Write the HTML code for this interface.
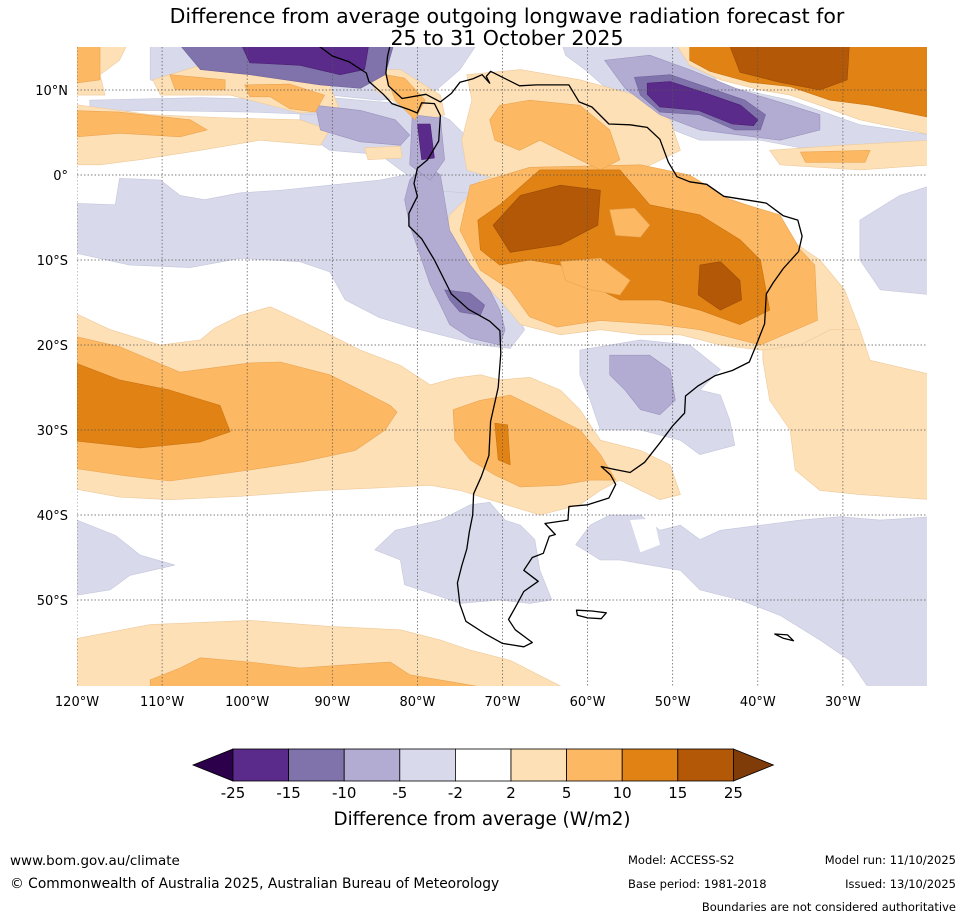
<!DOCTYPE html>
<html><head><meta charset="utf-8"><style>
body{margin:0;background:#fff;}
svg{display:block;font-family:"DejaVu Sans","Liberation Sans",sans-serif;}
</style></head><body>
<svg id="chart" width="965" height="919" viewBox="0 0 965 919" xmlns="http://www.w3.org/2000/svg">
<rect width="965" height="919" fill="#fff"/>
<text x="507" y="23" text-anchor="middle" font-size="20.5" fill="#000">Difference from average outgoing longwave radiation forecast for</text>
<text x="507" y="45" text-anchor="middle" font-size="20.5" fill="#000">25 to 31 October 2025</text>
<defs><clipPath id="mapclip"><rect x="77" y="47" width="850" height="639"/></clipPath></defs>
<g id="map" clip-path="url(#mapclip)"></g>
<g id="axes"></g>
<g id="cbar"></g>
<text x="482" y="825" text-anchor="middle" font-size="18.3">Difference from average (W/m2)</text>
<text x="10" y="865" font-size="13.5">www.bom.gov.au/climate</text>
<text x="10" y="888" font-size="13.8">© Commonwealth of Australia 2025, Australian Bureau of Meteorology</text>
<text x="628" y="864" font-size="11.5">Model: ACCESS-S2</text>
<text x="956" y="864" font-size="11.5" text-anchor="end">Model run: 11/10/2025</text>
<text x="628" y="888" font-size="11.5">Base period: 1981-2018</text>
<text x="956" y="888" font-size="11.5" text-anchor="end">Issued: 13/10/2025</text>
<text x="956" y="911" font-size="11.5" text-anchor="end">Boundaries are not considered authoritative</text>
</svg>
<script>
const lonTicks=[-120,-110,-100,-90,-80,-70,-60,-50,-40,-30];
const lonLabels=["120°W","110°W","100°W","90°W","80°W","70°W","60°W","50°W","40°W","30°W"];
const latTicks=[10,0,-10,-20,-30,-40,-50];
const latLabels=["10°N","0°","10°S","20°S","30°S","40°S","50°S"];
const cbarBounds=[-25,-15,-10,-5,-2,2,5,10,15,25];
const cbarColors=["#5a2b8a","#8073ac","#b2abd2","#d8daeb","#ffffff","#fee0b6","#fdb863","#e08214","#b35806"];
const cbarUnder="#2d004b", cbarOver="#7f3b08";
const levelColors={"-4":"#5a2b8a","-3":"#8073ac","-2":"#b2abd2","-1":"#d8daeb","0":"#ffffff","1":"#fee0b6","2":"#fdb863","3":"#e08214","4":"#b35806"};
// anomaly level index per region (1 = 2..5, -1 = -2..-5, etc.)
const regionLevels=[-1,-1,-1,-1,-1,-1,-1,
  1,1,1,1,1,1,1,1,1,1,1,1,
  -1,
  -2,-2,-2,-3,-2,-2,
  2,2,2,2,2,2,2,2,2,2,2,
  -3,-3,-1,3,3,3,3,-1,2,2,
  -4,-4,-4,4,4,4];
const regionPoints=[
 [[-121,-3.3],[-115.5,-3.5],[-115,-0.4],[-110.2,-0.6],[-107.9,-2.4],[-105,-2.9],[-100.8,-2.1],[-96.1,-1.8],[-90.3,-1.2],[-84.4,-0.6],[-81.5,0],[-80.3,1.2],[-77.3,2.9],[-73.8,3.5],[-70.3,1.8],[-69.7,-1.8],[-71.5,-3.5],[-73.8,-4.7],[-75,-7.6],[-72.6,-12.4],[-69.1,-14.7],[-67.4,-18.2],[-69.1,-20.4],[-72.6,-20],[-79.7,-18.2],[-84.4,-16.8],[-88.5,-14.7],[-90.3,-11.4],[-93.8,-10.2],[-100.8,-9.8],[-106.7,-10.9],[-113.8,-10.6],[-121,-9]],
 [[-93.8,9.4],[-86.7,8.8],[-79.7,8.2],[-76.2,6.5],[-73.8,4.1],[-70.3,2.9],[-69.1,0],[-70.3,-2.4],[-78.5,-1.8],[-82,0.6],[-84.4,2.4],[-90.3,2.9],[-93.8,5.3]],
 [[-111.4,16],[-72.6,16],[-75,12.4],[-78.5,9.4],[-84.4,8.8],[-90.3,9.4],[-99.7,9.4],[-105.5,9.4],[-111.4,11.2]],
 [[-63.2,16],[-48.6,16],[-44.4,10.6],[-36.2,8.8],[-28,5.9],[-19.5,4.7],[-19.5,3.5],[-28,3.5],[-35,3.2],[-39.7,4.1],[-46.8,4.1],[-51.5,5.9],[-56.2,8.8],[-60.3,12.4],[-62.6,14.1]],
 [[-60.9,-20.6],[-53.8,-19.4],[-48,-20],[-44.4,-22.9],[-46.8,-25.3],[-44.4,-25.9],[-43.3,-28.8],[-42.7,-31.8],[-46.8,-32.9],[-49.1,-31.2],[-53.8,-30],[-58.5,-30],[-59.7,-26.5],[-60.9,-23.5]],
 [[-28,-5.3],[-23.3,-2.4],[-19.5,-1.2],[-19.5,-14.1],[-25.6,-13.5],[-28,-10]],
 [[-118.5,8.8],[-105.5,9.1],[-93.8,8.8],[-91.4,7.1],[-99.7,7.4],[-111.4,7.6],[-118.5,7.4]],
 [[-121,-15.9],[-116.1,-18.2],[-110.2,-20],[-105.5,-19.4],[-103.8,-18],[-100.8,-16.5],[-97.3,-15.5],[-93.8,-17.1],[-90.3,-18.8],[-86.7,-20.6],[-82,-22.4],[-78.5,-24.7],[-75.6,-23.9],[-72.6,-23.5],[-70.3,-24.1],[-66.8,-23.8],[-63.2,-25.3],[-60.9,-27.6],[-58.5,-31.2],[-53.8,-32.4],[-50.3,-34.1],[-49.1,-37.6],[-51.5,-38.2],[-56.2,-35.9],[-58.5,-37.1],[-60.9,-38.8],[-65.6,-40],[-71.5,-38.2],[-75,-37.1],[-78.5,-36.5],[-84.4,-36.8],[-91.4,-37.1],[-100.8,-37.8],[-109.1,-38.2],[-115,-37.9],[-121,-36.8]],
 [[-77,-8.2],[-76.2,-4.7],[-74.4,-2.9],[-72.6,-0.6],[-70.3,0],[-64.4,1.2],[-58.5,1.2],[-52.7,-0.6],[-48,-1.2],[-44.4,-2.4],[-39.7,-4.1],[-36.2,-7.6],[-32.7,-10],[-29.8,-13.5],[-28,-18.2],[-29.2,-20],[-35,-20.6],[-39.7,-20.6],[-44.4,-20],[-49.1,-18.8],[-53.8,-18.8],[-58.5,-18.2],[-63.2,-18.8],[-67.9,-17.6],[-70.3,-14.7],[-73.2,-11.8],[-75.6,-10.6]],
 [[-39.4,-20.6],[-35,-20],[-31.5,-18.2],[-28,-18.2],[-26.8,-21.8],[-19.5,-23.5],[-19.5,-38.2],[-28,-37.6],[-32.7,-37.1],[-35.6,-34.7],[-36.2,-30],[-38.6,-26.5],[-39.4,-21.8]],
 [[-38.6,2.9],[-30.3,3.5],[-19.5,4.1],[-19.5,1.2],[-28,0.6],[-37.4,1.2]],
 [[-74.2,11.8],[-67.9,12.4],[-60.9,11.2],[-54.3,9.4],[-50.3,6.5],[-49.1,2.9],[-53.8,0.6],[-63.2,0.6],[-70.3,-0.6],[-74.2,0.6],[-74.8,4.1],[-73.6,8.8]],
 [[-85.6,12.4],[-82,12.4],[-77.3,9.4],[-76.8,7.1],[-79.7,6.2],[-82,8.2],[-85,10]],
 [[-121,16],[-113.8,16],[-115,13.5],[-117.3,11.8],[-116.7,9.4],[-121,9.4]],
 [[-111.1,11.2],[-105.5,12.9],[-98.5,11.8],[-90.3,10.6],[-89.1,7.6],[-93.8,7.3],[-102,9.4],[-110.2,9.4]],
 [[-121,8.4],[-111.4,7.1],[-102,6.7],[-93.8,6.5],[-90.3,5.3],[-91.4,3.5],[-98.5,4.1],[-105.5,2.9],[-112.6,1.8],[-117.3,1.2],[-121,1.2]],
 [[-121,-54.7],[-111.4,-52.9],[-99.7,-52.4],[-90.3,-53.1],[-82,-53.5],[-77.3,-54.7],[-73.8,-55.9],[-69.1,-57.1],[-63.2,-60.1],[-63.2,-62],[-121,-62]],
 [[-86.2,3.2],[-82,3.4],[-81.8,2],[-85.8,1.8]],
 [[-50,16],[-19.5,16],[-19.5,4.7],[-28,6.5],[-32.7,8.2],[-36.2,9.4],[-39.7,10],[-44.4,11.2],[-48,12.9]],
 [[-121,-40.2],[-115.5,-42.4],[-112.6,-44.7],[-108.5,-45.9],[-113.8,-47.1],[-116.1,-48.8],[-121,-49.6]],
 [[-80.9,-0.6],[-79.1,1.2],[-77.3,0],[-76.8,-2.9],[-76.2,-6.5],[-73.8,-10.6],[-71.5,-13.5],[-70.3,-15.9],[-69.7,-18.2],[-70.3,-20],[-73.8,-19.2],[-76.2,-17.6],[-77.3,-15.3],[-78.5,-12.9],[-79.7,-9.4],[-80.9,-5.9],[-81.5,-2.9]],
 [[-80.6,7.1],[-77.3,6.7],[-76.8,1.8],[-78.5,-0.6],[-80.9,1.2]],
 [[-92,8.2],[-86.7,7.6],[-82.6,6.5],[-80.9,4.7],[-82,3.5],[-86.7,3.9],[-91.4,5.3]],
 [[-108.5,16],[-82.6,16],[-83.8,11.8],[-86.7,10.2],[-91.4,10.6],[-99.7,11.8],[-105.5,12.4]],
 [[-58,13.5],[-52.7,14.1],[-48,12.4],[-42.1,10],[-36.2,8.2],[-32.7,7.1],[-32.7,5.3],[-37.4,4.1],[-42.1,4.7],[-46.8,5.3],[-51.5,7.1],[-55.6,10.2]],
 [[-57.4,-21.2],[-52.7,-21.2],[-50.3,-22.9],[-49.7,-26.5],[-51.5,-28.2],[-53.8,-27.6],[-55.6,-25.3],[-57.4,-23.5]],
 [[-121,-18.8],[-115,-20.2],[-107.9,-23.2],[-99.7,-22.1],[-96.1,-22],[-90.3,-23.5],[-86.7,-25.3],[-83.2,-27.1],[-82.4,-27.9],[-83.8,-30],[-87.3,-32.4],[-93.8,-33.8],[-99.7,-34.7],[-109.1,-36],[-115,-35.3],[-121,-34.4]],
 [[-75.8,-27.6],[-72.6,-26.5],[-69.1,-25.9],[-65.6,-27.6],[-60.9,-30],[-58.5,-32.9],[-56.7,-35.9],[-59.7,-35.9],[-63.2,-36.5],[-67.9,-36.7],[-70.9,-35.3],[-73.8,-33.5],[-75.6,-31.2]],
 [[-75,-6.5],[-73.8,-1.2],[-66.8,0.9],[-53.8,1.2],[-48,0],[-43.3,-2.9],[-37.4,-4.7],[-35,-8.8],[-33.3,-10.6],[-33,-17.1],[-39.7,-20],[-46.8,-18.2],[-51.5,-17.6],[-58.5,-17.1],[-63.6,-17.9],[-66.8,-16.7],[-69.1,-13.5],[-72.6,-11.2]],
 [[-70.3,8.2],[-66.8,8.8],[-60.9,8.2],[-57.4,5.3],[-56.2,1.8],[-58.5,0.6],[-63.2,2.9],[-65.6,4.1],[-68,2.9],[-70.9,4.1],[-71.5,6.5]],
 [[-121,7.6],[-115,7.4],[-106.7,6.5],[-104.7,5.3],[-107.9,4.5],[-115,4.9],[-121,4.4]],
 [[-121,16],[-117.3,16],[-117.3,11.2],[-121,10.7]],
 [[-109.1,11.8],[-102.6,11.2],[-102.6,10],[-108.5,10.1]],
 [[-100.3,10.6],[-95,10.7],[-90.9,9.4],[-92,7.4],[-95,7.8],[-97.3,9.2],[-99.7,9.2]],
 [[-83.8,11.8],[-81.5,11.4],[-79.1,8.8],[-80.3,6.5],[-82.6,8.8]],
 [[-35,2.7],[-26.8,2.9],[-27.4,1.5],[-34.4,1.5]],
 [[-111.4,-59.4],[-107.9,-58],[-105.5,-56.8],[-99.7,-57.3],[-93.8,-58],[-87.9,-57.6],[-83.2,-57.3],[-80.9,-58.8],[-70.3,-60.6],[-111.4,-60.6]],
 [[-76.8,-13.5],[-73.8,-13.9],[-72.1,-15.3],[-72.6,-16.5],[-75,-16.1],[-76.2,-14.7]],
 [[-54.5,11.5],[-50.3,11.8],[-45.6,10.2],[-41.5,8.8],[-39.1,7.1],[-39.7,5.3],[-42.7,5.3],[-46.8,7.1],[-51.5,7.4],[-53.8,9.4]],
 [[-85,-44.1],[-82.6,-41.8],[-77.3,-40.6],[-73.8,-38.8],[-71.5,-38.5],[-69.7,-40.6],[-67.9,-41.2],[-66.2,-42.9],[-65.6,-46.5],[-64.2,-50],[-66.8,-50.4],[-70.3,-50],[-75,-50.4],[-77.9,-49.4],[-81.5,-48.2],[-82,-45.3]],
 [[-72.6,-8.8],[-72.9,-5.3],[-70.3,-3.5],[-65.6,0.6],[-56.2,0.6],[-52.7,-3.5],[-46.8,-4.7],[-42.1,-7.6],[-39.7,-10],[-38.6,-15.9],[-42.1,-17.6],[-46.8,-15.9],[-51.5,-14.7],[-56.2,-14.7],[-59.7,-12.9],[-63.2,-10.6],[-66.8,-10],[-70.3,-10.6]],
 [[-121,-21.8],[-115,-24.1],[-109.1,-25.3],[-103.2,-27.1],[-102,-30.2],[-105.5,-31.4],[-112.6,-32.1],[-121,-31.2]],
 [[-70.9,-29.2],[-69.4,-29.4],[-69.1,-34.1],[-70.5,-33.5]],
 [[-44.4,16],[-19.5,16],[-19.5,6.7],[-26.8,8.2],[-31.5,8.8],[-36.2,10.4],[-40.9,10.9],[-45.6,12.2],[-48,13.5],[-48,16]],
 [[-61.4,-43.5],[-59.7,-41.2],[-57.4,-40],[-53.8,-40],[-51.5,-41.8],[-49.1,-41.2],[-46.8,-42.9],[-44.4,-41.8],[-39.7,-41.2],[-35,-40.6],[-30.3,-40.2],[-25.6,-40.6],[-19.5,-40.2],[-19.5,-60.6],[-26.8,-60.6],[-29.2,-57.1],[-32.7,-54.7],[-37.4,-51.8],[-42.1,-50],[-46.8,-48.8],[-49.1,-46.5],[-52.7,-45.9],[-56.2,-45.3],[-58.5,-45.3]],
 [[-57.4,-4.1],[-54.5,-3.9],[-52.7,-5.9],[-53.8,-7.3],[-56.7,-7.1]],
 [[-63.2,-10.2],[-58.5,-9.8],[-55,-12.4],[-56.2,-14.1],[-59.7,-13.5],[-62.6,-12.4]],
 [[-80,6],[-78.5,6],[-78,2],[-79.5,1.8]],
 [[-101,16],[-85.6,16],[-86.2,12.4],[-89.1,11.8],[-93.8,12.9],[-99.7,13.2]],
 [[-53,10.8],[-50.3,11],[-46,9.6],[-42,8.2],[-40,6.5],[-40.5,5.8],[-43,6],[-47,7.6],[-51.5,8],[-53,9.5]],
 [[-71.1,-5.9],[-67.9,-2.4],[-63.2,-1.2],[-58.5,-1.8],[-58.8,-5.9],[-63.2,-8.2],[-69.1,-9.1]],
 [[-46.8,-10.6],[-44.4,-10.2],[-42.1,-12.4],[-41.9,-14.7],[-44.4,-15.9],[-47,-14.1]],
 [[-43.6,16],[-29.2,16],[-29.5,11.2],[-32.7,10],[-37.4,10.9],[-42.1,12.1]]
];
// coastline outlines
const coastSouthAmerica=[[-92,15.5],[-90,14],[-88,13.3],[-86,12],[-85.7,11],[-84,9.5],[-83,8.4],[-81,7.7],[-80,7.3],[-79.5,8.5],[-78,8.4],[-77.3,7],[-77.5,4],[-78.8,1.8],[-80,0.8],[-80.4,-1],[-80,-2.5],[-81,-4.5],[-81,-6],[-79.5,-7.5],[-78,-10],[-76,-14],[-74,-15.8],[-71.5,-17.2],[-70.3,-18.3],[-70.2,-21],[-70.5,-25],[-71.4,-29],[-71.6,-33],[-72.5,-35.5],[-73.4,-37.5],[-73.5,-40],[-73.9,-42],[-74.2,-44],[-74.8,-46],[-75.3,-48],[-75,-50.5],[-74.3,-52.5],[-72,-54],[-70,-55.1],[-67.5,-55.5],[-66.5,-55],[-68.5,-53.5],[-69.3,-52.3],[-68.3,-50.5],[-67.5,-49],[-65.8,-47.8],[-67.5,-46.5],[-66.5,-45],[-65.2,-44.5],[-64.5,-42.5],[-63.8,-42.3],[-65,-41],[-62.3,-40.6],[-62.2,-39],[-60,-38.8],[-57.5,-38],[-56.7,-36.4],[-57.3,-35.3],[-58.4,-34.3],[-57,-34.6],[-55,-35],[-53.3,-33.8],[-51.5,-31.5],[-50,-29.5],[-48.6,-28],[-48.5,-26],[-47,-24.8],[-45,-23.6],[-43,-23],[-41,-22],[-40.3,-20.3],[-39.2,-17.5],[-39,-14],[-38.2,-12.7],[-37,-11],[-35.2,-9],[-34.8,-7.2],[-35.3,-5.3],[-37,-4.8],[-39,-3.3],[-41.5,-2.9],[-44,-2.5],[-46,-1.1],[-48,-0.8],[-49.5,-0.2],[-50.5,1.5],[-51.5,4.2],[-53,5.6],[-55,5.9],[-57.5,6],[-59.5,8],[-61,8.6],[-62.2,10.6],[-64,10.6],[-66,10.6],[-68,10.5],[-70,11.5],[-71.4,12.2],[-71.9,11.6],[-71.5,10.8],[-72.4,11.8],[-73.5,11.3],[-75,10.9],[-76,9.6],[-77.3,8.6],[-79,9.5],[-81.8,9],[-83.4,10.5],[-83.7,12],[-83.5,14],[-83.2,15.3],[-84,16]];
const coastFalklands=[[-61.3,-51.2],[-59.5,-51.3],[-57.8,-51.5],[-58.4,-52.2],[-60,-52.1],[-61.2,-51.8]];
const coastSouthGeorgia=[[-38,-54],[-36.5,-54.1],[-35.8,-54.8],[-37,-54.5]];

const X0=77, Y0=175, PX=8.51, PY=8.5;
function xScale(lon){return X0+(lon+120)*PX;}
function yScale(lat){return Y0-lat*PY;}
const NS="http://www.w3.org/2000/svg";
function mk(tag,attrs){const e=document.createElementNS(NS,tag);for(const k in attrs)e.setAttribute(k,attrs[k]);return e;}
function pathOf(pts,close){return pts.map((p,i)=>(i?"L":"M")+xScale(p[0]).toFixed(1)+" "+yScale(p[1]).toFixed(1)).join("")+(close?"Z":"");}

const map=document.getElementById("map");
const edge={"-4":"#4a2070","-3":"#6f6399","-2":"#9a93bd","-1":"#c4c6dc","0":"#ffffff","1":"#edc99a","2":"#e9a553","3":"#c97310","4":"#9a4b05"};
regionPoints.forEach((pts,i)=>{
  const lv=String(regionLevels[i]);
  const p=mk("path",{d:pathOf(pts,true),fill:levelColors[lv],stroke:edge[lv],"stroke-width":"0.6","stroke-linejoin":"round"});
  
  
  map.appendChild(p);
});
const whiteHoles=[[[-55,-40.6],[-52.2,-40.4],[-51.5,-43.5],[-53.8,-44.4]]];
whiteHoles.forEach(pts=>{
  const p=mk("path",{d:pathOf(pts,true),fill:"#fff"});
  
  
  map.appendChild(p);
});
lonTicks.forEach(l=>{
  const g=mk("line",{x1:xScale(l),x2:xScale(l),y1:47,y2:686,stroke:"#555","stroke-width":"0.7","stroke-dasharray":"1.5,2"});
  
  
  map.appendChild(g);
});
latTicks.forEach(l=>{
  const g=mk("line",{x1:77,x2:927,y1:yScale(l),y2:yScale(l),stroke:"#555","stroke-width":"0.7","stroke-dasharray":"1.5,2"});
  
  
  map.appendChild(g);
});
[coastSouthAmerica,coastFalklands,coastSouthGeorgia].forEach((c,i)=>{
  const p=mk("path",{d:pathOf(c,i>0),fill:"none",stroke:"#000","stroke-width":"1.3","stroke-linejoin":"round"});
  
  
  map.appendChild(p);
});
const axes=document.getElementById("axes");
lonTicks.forEach((l,i)=>{
  const t=mk("text",{x:xScale(l),y:706,"text-anchor":"middle","font-size":"13"});
  t.textContent=lonLabels[i];
  
  
  axes.appendChild(t);
});
latTicks.forEach((l,i)=>{
  const t=mk("text",{x:68,y:yScale(l)+5,"text-anchor":"end","font-size":"13"});
  t.textContent=latLabels[i];
  
  
  axes.appendChild(t);
});
const cb=document.getElementById("cbar");
const cbX0=233, cbW=55.6, cbY=749, cbH=32;
const under=mk("path",{d:`M${cbX0} ${cbY}L193 ${cbY+cbH/2}L${cbX0} ${cbY+cbH}Z`,fill:cbarUnder,stroke:"#000","stroke-width":"0.8"});


cb.appendChild(under);
cbarColors.forEach((c,i)=>{
  const r=mk("rect",{x:cbX0+i*cbW,y:cbY,width:cbW,height:cbH,fill:c,stroke:"#000","stroke-width":"0.8"});
  
  
  cb.appendChild(r);
});
const xe=cbX0+cbarColors.length*cbW;
const over=mk("path",{d:`M${xe} ${cbY}L${xe+40} ${cbY+cbH/2}L${xe} ${cbY+cbH}Z`,fill:cbarOver,stroke:"#000","stroke-width":"0.8"});


cb.appendChild(over);
cbarBounds.forEach((b,i)=>{
  const t=mk("text",{x:cbX0+i*cbW,y:798,"text-anchor":"middle","font-size":"15"});
  t.textContent=String(b);
  
  
  cb.appendChild(t);
});
</script>
</body></html>
